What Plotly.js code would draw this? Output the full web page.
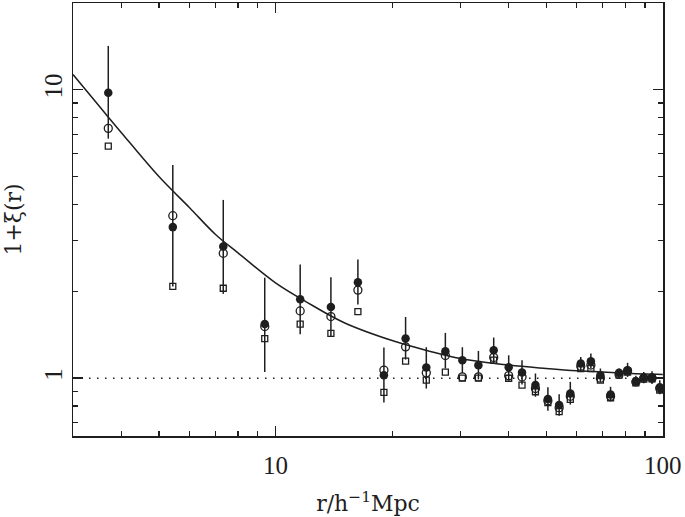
<!DOCTYPE html>
<html>
<head>
<meta charset="utf-8">
<script src="https://cdn.plot.ly/plotly-3.0.1.min.js"></script>
<style>
  body { margin: 0; background: #fff; }
  #myDiv { width: 685px; height: 517px; }
</style>
</head>
<body>
<div id="myDiv"></div>
<script>
// separations r (h^-1 Mpc)
var r = [3.70, 5.43, 7.33, 9.38, 11.58, 13.90, 16.32, 19.05, 21.67, 24.51,
         27.45, 30.37, 33.41, 36.59, 40.0, 43.3, 46.9, 50.5, 54.0, 57.7,
         61.4, 65.2, 69.0, 73.3, 77.1, 81.1, 85.2, 89.3, 93.8, 98.2];

// filled circles and their error bar ends
var xiFilled = [9.76, 3.34, 2.86, 1.54, 1.877, 1.765, 2.15, 1.024, 1.372, 1.089,
                1.24, 1.154, 1.109, 1.25, 1.09, 1.046, 0.946, 0.846, 0.807, 0.885,
                1.124, 1.145, 1.024, 0.878, 1.043, 1.066, 0.976, 1.005, 1.005, 0.929];
var errTop = [14.2, 5.49, 4.15, 2.23, 2.48, 2.24, 2.58, 1.277, 1.63, 1.28,
              1.435, 1.28, 1.243, 1.383, 1.20, 1.154, 1.038, 0.929, 0.88, 0.971,
              1.185, 1.217, 1.08, 0.933, 1.08, 1.13, 1.02, 1.05, 1.057, 0.984];
var errBottom = [6.77, 2.08, 1.96, 1.05, 1.42, 1.40, 1.80, 0.824, 1.16, 0.92,
                 1.08, 1.04, 0.99, 1.13, 0.98, 0.95, 0.862, 0.77, 0.74, 0.81,
                 1.065, 1.08, 0.97, 0.83, 1.0, 1.01, 0.94, 0.96, 0.955, 0.88];

// open circles
var xiOpen = [7.35, 3.66, 2.71, 1.51, 1.71, 1.635, 2.02, 1.066, 1.284, 1.043,
              1.198, 1.01, 1.01, 1.18, 1.02, 1.01, 0.92, 0.835, 0.79, 0.865,
              1.10, 1.11, 1.0, 0.866, 1.03, 1.06, 0.97, 1.0, 1.0, 0.92];

// open squares
var xiSquare = [6.38, 2.08, 2.05, 1.37, 1.54, 1.43, 1.70, 0.892, 1.145, 0.985,
                1.05, 1.0, 1.0, 1.154, 0.999, 0.946, 0.897, 0.822, 0.765, 0.844,
                1.08, 1.08, 0.984, 0.855, 1.024, 1.05, 0.963, 0.992, 0.995, 0.909];

// model curve
var modelR = [3, 3.5, 4, 5, 6, 7, 8, 10, 12, 15, 20, 25, 30, 40, 50, 60, 70, 80, 100];
var modelXi = [11.3, 8.8, 7.1, 5.0, 3.9, 3.15, 2.72, 2.14, 1.84, 1.56, 1.35, 1.24, 1.17,
               1.11, 1.08, 1.06, 1.05, 1.04, 1.03];

var ink = '#1e1e1e';

var errPlus = xiFilled.map(function (v, i) { return errTop[i] - v; });
var errMinus = xiFilled.map(function (v, i) { return v - errBottom[i]; });

var model = {
  x: modelR, y: modelXi, mode: 'lines',
  line: { color: ink, width: 1.5, shape: 'spline' },
  hoverinfo: 'skip'
};

var unity = {
  x: [3, 100], y: [1, 1], mode: 'lines',
  line: { color: ink, width: 1.5, dash: '1.5px,6.5px' },
  hoverinfo: 'skip'
};

var squares = {
  x: r, y: xiSquare, mode: 'markers',
  marker: { symbol: 'square-open', size: 6, color: ink, line: { width: 1.3 } }
};

var opens = {
  x: r, y: xiOpen, mode: 'markers',
  marker: { symbol: 'circle-open', size: 8, color: ink, line: { width: 1.3 } }
};

var filled = {
  x: r, y: xiFilled, mode: 'markers',
  marker: { symbol: 'circle', size: 8.5, color: ink },
  error_y: {
    type: 'data', symmetric: false, array: errPlus, arrayminus: errMinus,
    width: 0, thickness: 1.5, color: ink
  }
};

var data = [model, unity, squares, opens, filled];

var tickFam = '"Liberation Serif", serif';
var titleFam = '"DejaVu Serif", serif';

var layout = {
  width: 685, height: 517,
  margin: { l: 73, r: 22, t: 3, b: 81 },
  paper_bgcolor: '#fff', plot_bgcolor: '#fff',
  showlegend: false,
  font: { family: tickFam, color: ink },
  xaxis: {
    type: 'log',
    range: [Math.log10(3), 2.0005],
    tickvals: [10, 100], ticktext: ['10', '100'],
    ticks: 'inside', ticklen: 10, tickwidth: 1.3, tickcolor: ink,
    ticklabelstandoff: 6,
    showline: true, linewidth: 1.5, linecolor: ink, mirror: 'ticks',
    showgrid: false, zeroline: false,
    minor: {
      tickvals: [4, 5, 6, 7, 8, 9, 20, 30, 40, 50, 60, 70, 80, 90],
      ticks: 'inside', ticklen: 5, tickwidth: 1.2, tickcolor: ink, showgrid: false
    },
    tickfont: { family: tickFam, size: 25, color: ink },
    title: { text: 'r/h<sup>−1</sup>Mpc', font: { family: titleFam, size: 22, color: ink }, standoff: 18 }
  },
  yaxis: {
    type: 'log',
    range: [Math.log10(0.63), Math.log10(20)],
    tickvals: [1, 10], ticktext: ['1', '10'],
    tickangle: -90,
    ticks: 'inside', ticklen: 10, tickwidth: 1.3, tickcolor: ink,
    showline: true, linewidth: 1.5, linecolor: ink, mirror: 'ticks',
    showgrid: false, zeroline: false,
    minor: {
      tickvals: [0.7, 0.8, 0.9, 2, 3, 4, 5, 6, 7, 8, 9],
      ticks: 'inside', ticklen: 5, tickwidth: 1.2, tickcolor: ink, showgrid: false
    },
    tickfont: { family: tickFam, size: 25, color: ink },
    title: { text: '1+ξ(r)', font: { family: titleFam, size: 22, color: ink }, standoff: 12 }
  }
};

Plotly.newPlot('myDiv', data, layout, { displayModeBar: false, staticPlot: true });
</script>
</body>
</html>
